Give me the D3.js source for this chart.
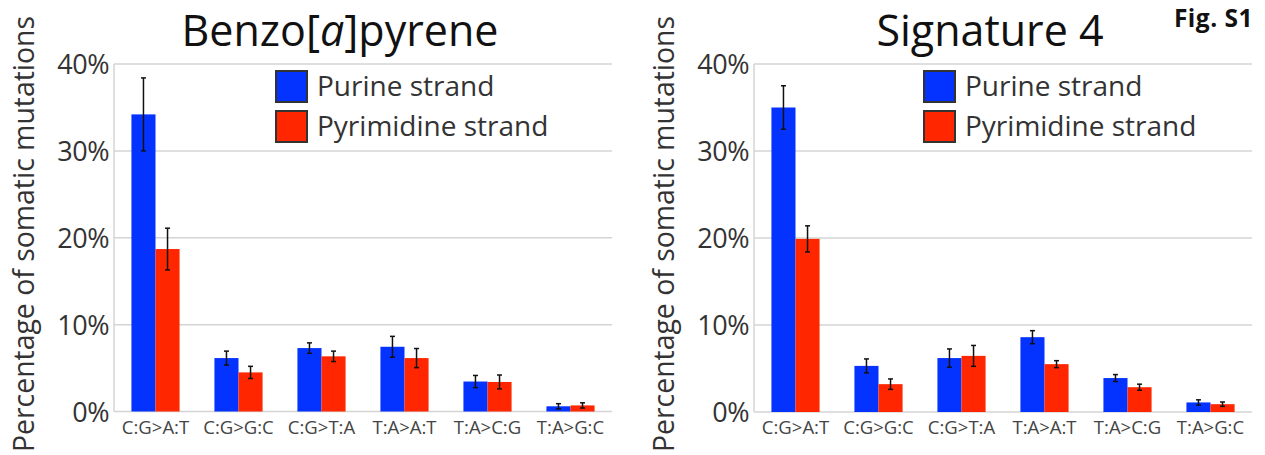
<!DOCTYPE html>
<html>
<head>
<meta charset="utf-8">
<script src="https://cdn.jsdelivr.net/npm/d3@7"></script>
<style>
  body { margin: 0; background: #fff; }
  svg { display: block; font-family: "Open Sans", "Noto Sans", sans-serif; }
</style>
</head>
<body>
<div id="canvas"></div>
<script>
"use strict";

// categories + values (percent)
const categories = ["C:G>A:T", "C:G>G:C", "C:G>T:A", "T:A>A:T", "T:A>C:G", "T:A>G:C"];
const seriesNames = ["Purine strand", "Pyrimidine strand"];
const yTicks = [0, 10, 20, 30, 40];

const bapPurine = [34.2, 6.15, 7.3, 7.45, 3.45, 0.6];
const bapPurineErr = [4.2, 0.8, 0.6, 1.2, 0.7, 0.3];
const bapPyrimidine = [18.7, 4.5, 6.35, 6.15, 3.4, 0.7];
const bapPyrimidineErr = [2.4, 0.7, 0.6, 1.1, 0.8, 0.3];

const sig4Purine = [35.0, 5.3, 6.2, 8.6, 3.9, 1.1];
const sig4PurineErr = [2.5, 0.8, 1.05, 0.75, 0.4, 0.3];
const sig4Pyrimidine = [19.9, 3.2, 6.45, 5.5, 2.85, 0.9];
const sig4PyrimidineErr = [1.5, 0.6, 1.2, 0.4, 0.35, 0.25];

const colors = ["#0433ff", "#ff2600"];

let width = 1265;
let height = 455;

let svg = d3.select("#canvas")
  .append("svg")
  .attr("width", width)
  .attr("height", height);

function drawPanel(p) {
  let x = d3.scaleBand()
    .domain(categories)
    .range([p.left, p.right])
    .paddingInner(0.42)
    .paddingOuter(0.21);

  let sub = d3.scaleBand()
    .domain([0, 1])
    .range([0, x.bandwidth()]);

  let y = d3.scaleLinear()
    .domain([0, 40])
    .range([p.bottom, p.top]);

  let g = svg.append("g");

  // gridlines
  g.selectAll("line.grid")
    .data(yTicks)
    .enter()
    .append("line")
    .attr("class", "grid")
    .attr("x1", p.left)
    .attr("x2", p.right)
    .attr("y1", d => y(d))
    .attr("y2", d => y(d))
    .attr("stroke", "#d4d4d4")
    .attr("stroke-width", 1.5);

  // y axis line
  g.append("line")
    .attr("x1", p.left).attr("x2", p.left)
    .attr("y1", y(40)).attr("y2", y(0))
    .attr("stroke", "#d4d4d4")
    .attr("stroke-width", 1.5);

  // tick labels
  g.selectAll("text.ytick")
    .data(yTicks)
    .enter()
    .append("text")
    .attr("class", "ytick")
    .attr("x", p.left - 5)
    .attr("y", d => y(d) + 10)
    .attr("text-anchor", "end")
    .style("font-size", "27px")
    .style("letter-spacing", "-0.5px")
    .attr("fill", "#333")
    .text(d => d + "%");

  // x labels
  g.selectAll("text.xtick")
    .data(categories)
    .enter()
    .append("text")
    .attr("class", "xtick")
    .attr("x", d => x(d) + x.bandwidth() / 2)
    .attr("y", p.bottom + 22)
    .attr("text-anchor", "middle")
    .style("font-size", "18.5px")
    .attr("fill", "#444")
    .text(d => d);

  // bars
  let series = [p.purine, p.pyrimidine];
  let errs = [p.purineErr, p.pyrimidineErr];
  let rows = [];
  categories.forEach((c, i) => {
    series.forEach((s, k) => {
      rows.push({ cat: c, k: k, v: s[i], e: errs[k][i] });
    });
  });

  g.selectAll("rect.bar")
    .data(rows)
    .enter()
    .append("rect")
    .attr("class", "bar")
    .attr("x", d => x(d.cat) + sub(d.k))
    .attr("y", d => y(d.v))
    .attr("width", sub.bandwidth())
    .attr("height", d => y(0) - y(d.v))
    .attr("fill", d => colors[d.k]);

  // error bars
  let eb = g.selectAll("g.err")
    .data(rows)
    .enter()
    .append("g")
    .attr("class", "err")
    .attr("stroke", "#111")
    .attr("stroke-width", 1.5);

  let cx = d => x(d.cat) + sub(d.k) + sub.bandwidth() / 2;
  eb.append("line")
    .attr("x1", cx).attr("x2", cx)
    .attr("y1", d => y(d.v + d.e))
    .attr("y2", d => y(d.v - d.e));
  eb.append("line")
    .attr("x1", d => cx(d) - 2.5).attr("x2", d => cx(d) + 2.5)
    .attr("y1", d => y(d.v + d.e)).attr("y2", d => y(d.v + d.e));
  eb.append("line")
    .attr("x1", d => cx(d) - 2.5).attr("x2", d => cx(d) + 2.5)
    .attr("y1", d => y(d.v - d.e)).attr("y2", d => y(d.v - d.e));

  // title
  let t = g.append("text")
    .attr("x", p.titleX)
    .attr("y", 46)
    .attr("text-anchor", "middle")
    .style("font-size", "43px")
    .attr("fill", "#111");
  p.title.forEach(part => {
    t.append("tspan")
      .style("font-style", part.italic ? "italic" : "normal")
      .text(part.s);
  });

  // y axis title
  g.append("text")
    .attr("transform", `translate(${p.labelX}, 234) rotate(-90)`)
    .attr("text-anchor", "middle")
    .style("font-size", "28.4px")
    .attr("fill", "#333")
    .text("Percentage of somatic mutations");

  // legend
  let lg = g.selectAll("g.legend")
    .data(seriesNames)
    .enter()
    .append("g")
    .attr("class", "legend")
    .attr("transform", (d, i) => `translate(${p.legendX}, ${71 + i * 40})`);

  lg.append("rect")
    .attr("width", 31)
    .attr("height", 31)
    .attr("fill", (d, i) => colors[i])
    .attr("stroke", "#333")
    .attr("stroke-width", 2);

  lg.append("text")
    .attr("x", 41)
    .attr("y", 25)
    .style("font-size", "28px")
    .attr("fill", "#333")
    .text(d => d);
}

drawPanel({
  left: 114, right: 612, top: 64, bottom: 411.5,
  purine: bapPurine, purineErr: bapPurineErr,
  pyrimidine: bapPyrimidine, pyrimidineErr: bapPyrimidineErr,
  title: [{ s: "Benzo[" }, { s: "a", italic: true }, { s: "]pyrene" }],
  titleX: 340, labelX: 34, legendX: 276
});

drawPanel({
  left: 754, right: 1252, top: 64, bottom: 412,
  purine: sig4Purine, purineErr: sig4PurineErr,
  pyrimidine: sig4Pyrimidine, pyrimidineErr: sig4PyrimidineErr,
  title: [{ s: "Signature 4" }],
  titleX: 990, labelX: 674, legendX: 924
});

// figure tag
svg.append("text")
  .attr("x", 1253)
  .attr("y", 27)
  .attr("text-anchor", "end")
  .style("font-size", "24.5px")
  .style("letter-spacing", "0.5px")
  .style("font-weight", "bold")
  .attr("fill", "#111")
  .text("Fig. S1");
</script>
</body>
</html>
